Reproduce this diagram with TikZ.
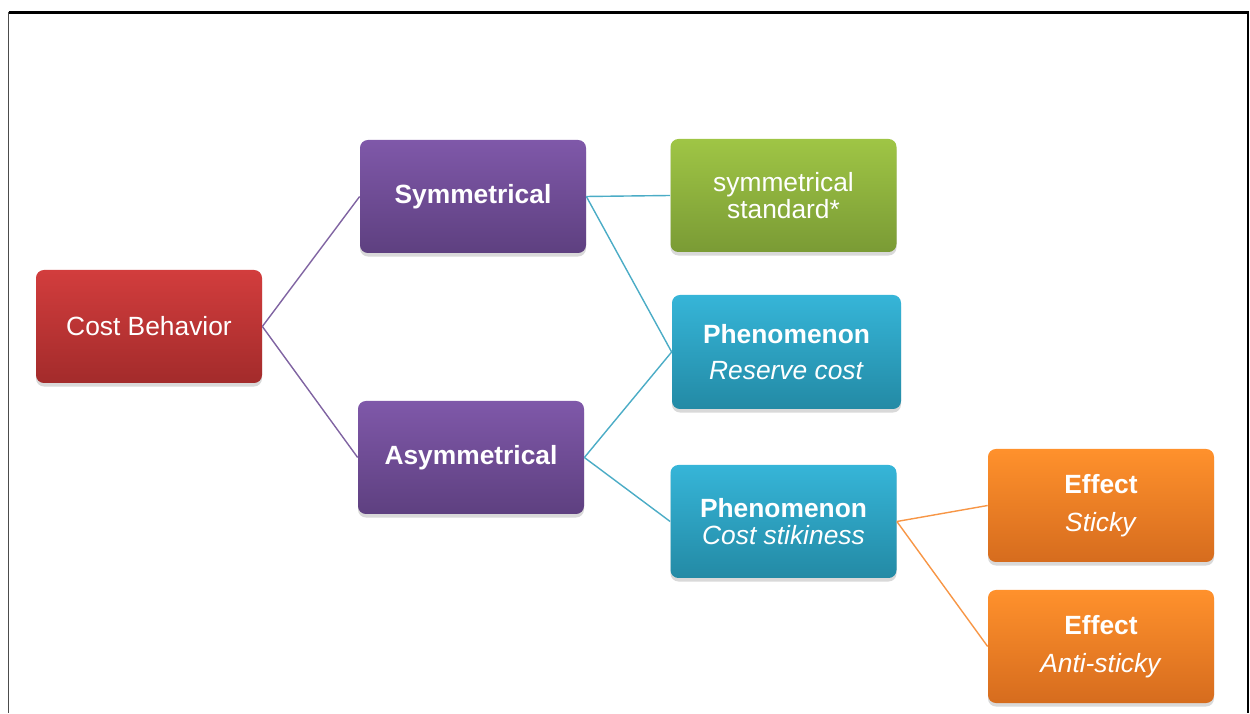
\documentclass[tikz,border=0pt]{standalone}
\usepackage{fontspec}
\setmainfont{Liberation Sans}
\usepackage{xcolor}
\usetikzlibrary{shadows}

\definecolor{redtop}{HTML}{D23D3D}
\definecolor{redbot}{HTML}{A32B2B}
\definecolor{purptop}{HTML}{7F58A9}
\definecolor{purpbot}{HTML}{5E4080}
\definecolor{greentop}{HTML}{9FC545}
\definecolor{greenbot}{HTML}{7A9B35}
\definecolor{cyantop}{HTML}{36B5D8}
\definecolor{cyanbot}{HTML}{238AA5}
\definecolor{orangetop}{HTML}{FF912C}
\definecolor{orangebot}{HTML}{D66C1E}
\definecolor{purpline}{HTML}{8064A2}
\definecolor{cyanline}{HTML}{4BACC6}
\definecolor{orangeline}{HTML}{F79646}

\tikzset{
  box/.style={rounded corners=4.5pt, minimum width=4.52cm, minimum height=2.26cm,
    inner sep=0pt, align=center, text=white, font=\fontsize{15}{15}\selectfont,
    drop shadow={shadow xshift=0pt, shadow yshift=-2pt, opacity=0.3}},
  redbox/.style={box, top color=redtop, bottom color=redbot},
  purpbox/.style={box, top color=purptop, bottom color=purpbot},
  greenbox/.style={box, top color=greentop, bottom color=greenbot},
  cyanbox/.style={box, top color=cyantop, bottom color=cyanbot},
  orangebox/.style={box, top color=orangetop, bottom color=orangebot},
  link/.style={line width=0.8pt},
}

\begin{document}
\begin{tikzpicture}[scale=1.0]
    \useasboundingbox (0,0) rectangle (25,14.26);
    % frame
    \draw[line width=1.2pt] (0.17,14.01) -- (24.96,14.01) -- (24.96,0);
    \draw[black!70, line width=0.8pt] (0.17,14.01) -- (0.17,0);
    % boxes
    \node[redbox] (cost) at (2.98,7.73) {Cost Behavior};
    \node[purpbox,font=\fontsize{15}{15}\selectfont\bfseries] (sym) at (9.46,10.33) {Symmetrical};
    \node[purpbox,font=\fontsize{15}{15}\selectfont\bfseries] (asym) at (9.42,5.11) {Asymmetrical};
    \node[greenbox] (symstd) at (15.67,10.35) {symmetrical\\standard*};
    \node[cyanbox,minimum width=4.58cm,minimum height=2.28cm] (reserve) at (15.73,7.22)
      {\textbf{Phenomenon}\\[5.5pt]\textit{Reserve cost}};
    \node[cyanbox] (sticky) at (15.67,3.83) {\textbf{Phenomenon}\\\textit{Cost stikiness}};
    \node[orangebox] (effsticky) at (22.02,4.15) {\textbf{Effect}\\[6.5pt]\textit{Sticky}};
    \node[orangebox] (effanti) at (22.02,1.33) {\textbf{Effect}\\[6.5pt]\textit{Anti-sticky}};
    % links
    \draw[link,purpline] (cost.east) -- (sym.west);
    \draw[link,purpline] (cost.east) -- (asym.west);
    \draw[link,cyanline] (sym.east) -- (symstd.west);
    \draw[link,cyanline] (sym.east) -- (reserve.west);
    \draw[link,cyanline] (asym.east) -- (reserve.west);
    \draw[link,cyanline] (asym.east) -- (sticky.west);
    \draw[link,orangeline] (sticky.east) -- (effsticky.west);
    \draw[link,orangeline] (sticky.east) -- (effanti.west);
  \end{tikzpicture}
\end{document}
